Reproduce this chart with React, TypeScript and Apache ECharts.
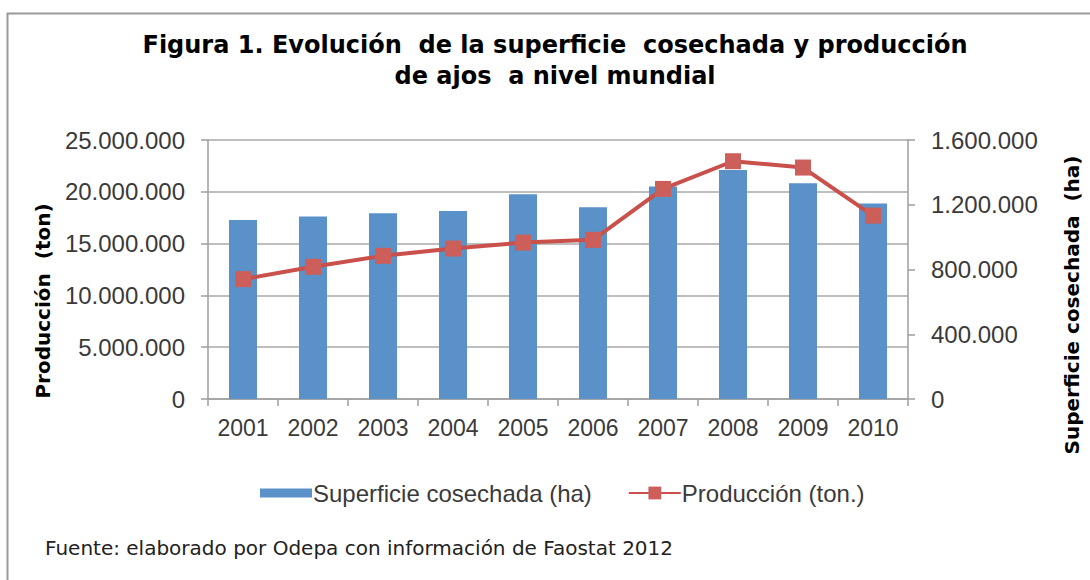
import React, { useEffect, useRef } from "react";
import * as echarts from "echarts";

const years = ["2001", "2002", "2003", "2004", "2005", "2006", "2007", "2008", "2009", "2010"];
const superficieHa = [1106000, 1127000, 1147000, 1162000, 1265000, 1184000, 1312000, 1415000, 1333000, 1207000];
const produccionTon = [11570000, 12760000, 13820000, 14520000, 15100000, 15360000, 20280000, 22950000, 22340000, 17700000];

const titleLines = ["Figura 1. Evolución  de la superficie  cosechada y producción", "de ajos  a nivel mundial"];
const leftAxisName = "Producción  (ton)";
const rightAxisName = "Superficie cosechada  (ha)";
const sourceText = "Fuente: elaborado por Odepa con información de Faostat 2012";
const seriesNames = ["Superficie cosechada (ha)", "Producción (ton.)"];

const fmt = (v: number) => String(Math.round(v)).replace(/\B(?=(\d{3})+(?!\d))/g, ".");

export default function App() {
  const ref = useRef<HTMLDivElement>(null);
  useEffect(() => {
    if (!ref.current) return;
    const chart = echarts.init(ref.current, null, { renderer: "svg" });
    const axisColor = "#9E9E9E";
    const labelColor = "#3A3A3A";
    const labelFont = "Liberation Sans";
    chart.setOption({
      animation: false,
      backgroundColor: "#ffffff",
      grid: { left: 208, right: 182, top: 140, bottom: 181, containLabel: false },
      legend: {
        left: 255,
        top: 476,
        itemWidth: 52,
        itemHeight: 16,
        itemGap: 36,
        textStyle: { fontFamily: labelFont, fontSize: 24, color: labelColor, padding: [0, 0, 0, -4] },
        data: [
          { name: seriesNames[0], icon: "path://M0,0L0.001,0L0.001,0.001Z M0,16L0.001,16L0.001,15.999Z M0,3.5L52,3.5L52,12.5L0,12.5Z" },
          { name: seriesNames[1] },
        ],
      },
      xAxis: {
        type: "category",
        data: years,
        boundaryGap: true,
        axisLine: { show: true, lineStyle: { color: axisColor, width: 1.5 } },
        axisTick: { show: true, alignWithLabel: false, length: 7, lineStyle: { color: axisColor, width: 1.5 } },
        axisLabel: { fontFamily: labelFont, fontSize: 23, color: labelColor, margin: 17 },
      },
      yAxis: [
        {
          type: "value",
          min: 0,
          max: 25000000,
          interval: 5000000,
          position: "left",
          axisLine: { show: true, lineStyle: { color: axisColor, width: 1.5 } },
          axisTick: { show: true, length: 7, lineStyle: { color: axisColor, width: 1.5 } },
          splitLine: { show: true, lineStyle: { color: "#A8A8A8", width: 1.5 } },
          axisLabel: { fontFamily: labelFont, fontSize: 24, color: labelColor, margin: 23, formatter: fmt },
        },
        {
          type: "value",
          min: 0,
          max: 1600000,
          interval: 400000,
          position: "right",
          axisLine: { show: true, lineStyle: { color: axisColor, width: 1.5 } },
          axisTick: { show: true, length: 7, lineStyle: { color: axisColor, width: 1.5 } },
          splitLine: { show: false },
          axisLabel: { fontFamily: labelFont, fontSize: 24, color: labelColor, margin: 23, formatter: fmt },
        },
      ],
      series: [
        {
          name: seriesNames[0],
          type: "bar",
          yAxisIndex: 1,
          data: superficieHa,
          barWidth: 28,
          itemStyle: { color: "#5A91C8" },
        },
        {
          name: seriesNames[1],
          type: "line",
          yAxisIndex: 0,
          data: produccionTon,
          symbol: "rect",
          symbolSize: 16,
          lineStyle: { color: "#C9504B", width: 4 },
          itemStyle: { color: "#CC5F59" },
        },
      ],
      graphic: [
        {
          type: "rect",
          left: 5,
          top: 11,
          shape: { x: 0, y: 0, width: 1100, height: 600 },
          style: { fill: "none", stroke: "#9A9A9A", lineWidth: 2 },
          silent: true,
          z: -1,
        },
        {
          type: "text",
          x: 555,
          y: 45,
          style: { text: titleLines[0], font: "bold 24px 'DejaVu Sans'", fill: "#000", textAlign: "center", textVerticalAlign: "middle" },
        },
        {
          type: "text",
          x: 555,
          y: 76,
          style: { text: titleLines[1], font: "bold 24px 'DejaVu Sans'", fill: "#000", textAlign: "center", textVerticalAlign: "middle" },
        },
        {
          type: "text",
          x: 43,
          y: 301,
          rotation: Math.PI / 2,
          style: { text: leftAxisName, font: "bold 20px 'DejaVu Sans'", fill: "#000", textAlign: "center", textVerticalAlign: "middle" },
        },
        {
          type: "text",
          x: 1072,
          y: 305,
          rotation: Math.PI / 2,
          style: { text: rightAxisName, font: "bold 20px 'DejaVu Sans'", fill: "#000", textAlign: "center", textVerticalAlign: "middle" },
        },
        {
          type: "text",
          x: 45,
          y: 548,
          style: { text: sourceText, font: "20px 'DejaVu Sans'", fill: "#222", textAlign: "left", textVerticalAlign: "middle" },
        },
      ],
    });
    return () => chart.dispose();
  }, []);
  return <div ref={ref} style={{ position: "fixed", left: 0, top: 0, width: 1090, height: 580 }} />;
}
